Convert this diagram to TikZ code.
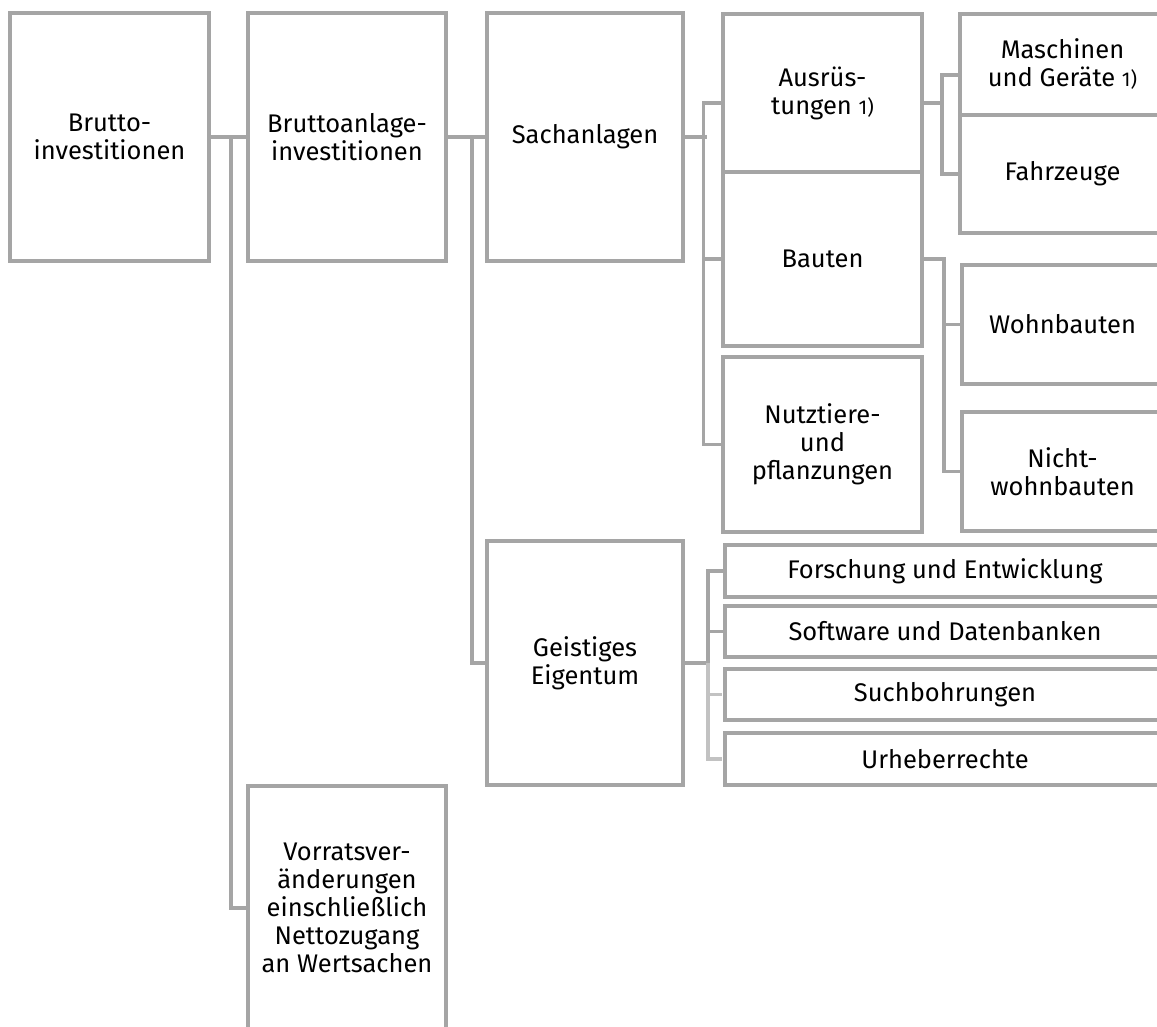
\documentclass[tikz,border=0pt]{standalone}
\usepackage{fontspec}
\setmainfont{Fira Sans}
\definecolor{boxgray}{HTML}{A5A5A5}
\definecolor{paleline}{HTML}{C2C2C2}
\newcommand\fnmark{{\fontsize{20}{20}\selectfont 1)}}
\begin{document}
\begin{tikzpicture}[x=1pt,y=-1pt,
    box/.style={draw=boxgray, line width=3.5pt, fill=white, inner sep=0pt,
      align=center, font=\fontsize{25.5}{28}\selectfont},
    link/.style={draw=boxgray, line width=3.5pt},
    palelink/.style={draw=paleline, line width=3.5pt, shorten >=1.75pt}]
        \clip (0,0) rectangle (1157,1026);
        \node[box, minimum width=199pt, minimum height=248pt] (brutto) at (109.5,137) {Brutto-\\investitionen};
        \node[box, minimum width=198pt, minimum height=248pt] (anlage) at (347,137) {Bruttoanlage-\\investitionen};
        \node[box, minimum width=196pt, minimum height=248pt] (sach) at (585,137) {Sachanlagen};
        \node[box, minimum width=196pt, minimum height=244pt] (geist) at (585,663) {Geistiges\\Eigentum};
        \node[box, minimum width=198pt, minimum height=244pt] (vorrats) at (347,908) {Vorratsver-\\änderungen\\einschließlich\\Nettozugang\\an Wertsachen};
        \node[box, minimum width=199pt, minimum height=158pt] (ausr) at (822.5,93) {Ausrüs-\\tungen \fnmark};
        \node[box, minimum width=199pt, minimum height=174pt] (bauten) at (822.5,259) {Bauten};
        \node[box, minimum width=199pt, minimum height=175pt] (nutz) at (822.5,444.5) {Nutztiere-\\und\\pflanzungen};
        \node[box, minimum width=205pt, minimum height=101pt] (masch) at (1062.5,64.5) {Maschinen\\und Geräte \fnmark};
        \node[box, minimum width=205pt, minimum height=118pt] (fahr) at (1062.5,174) {Fahrzeuge};
        \node[box, minimum width=201pt, minimum height=119pt] (wohn) at (1062.5,324.5) {Wohnbauten};
        \node[box, minimum width=201pt, minimum height=119pt] (nicht) at (1062.5,471.5) {Nicht-\\wohnbauten};
        \node[box, minimum width=440pt, minimum height=52pt] (forsch) at (945,571) {Forschung und Entwicklung};
        \node[box, minimum width=440pt, minimum height=51pt] (soft) at (945,631.5) {Software und Datenbanken};
        \node[box, minimum width=440pt, minimum height=51pt] (such) at (945,694.5) {Suchbohrungen};
        \node[box, minimum width=440pt, minimum height=52pt] (urheb) at (945,759) {Urheberrechte};
        \draw[link] (brutto.east) -- (anlage.west);
        \draw[link] (brutto.east) ++(20,0) |- (vorrats.west);
        \draw[link] (anlage.east) -- (sach.west);
        \draw[link] (anlage.east) ++(24,0) |- (geist.west);
        \draw[link] (sach.east) -- ++(22,0);
        \draw[link] ([yshift=-10pt]ausr.west) -- ++(-18,0) |- (nutz.west);
        \draw[link] (bauten.west) -- ++(-18,0);
        \draw[link] ([yshift=-10pt]ausr.east) -- ++(18,0) coordinate (aj);
        \draw[link] ([yshift=-10.5pt]masch.west) -| (aj) |- (fahr.west);
        \draw[link] (bauten.east) -- ++(20,0) |- (nicht.west);
        \draw[link] (bauten.east) ++(20,0) |- (wohn.west);
        \draw[link] (geist.east) -- ++(23,0) coordinate (gj) |- (forsch.west);
        \draw[link] (gj) |- (soft.west);
        \draw[palelink] (gj) |- (such.west);
        \draw[palelink] (gj) |- (urheb.west);
\end{tikzpicture}
\end{document}
